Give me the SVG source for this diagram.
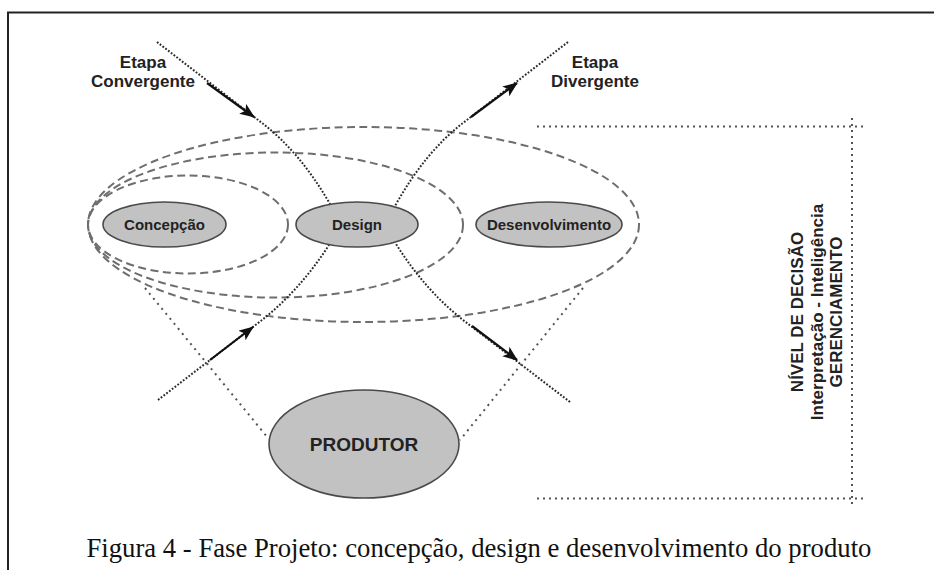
<svg xmlns="http://www.w3.org/2000/svg" width="934" height="570" viewBox="0 0 934 570">
<style>
.frame{fill:none;stroke:#222;stroke-width:2}
.zone{fill:none;stroke:#6e6e6e;stroke-width:2;stroke-dasharray:8 4.5}
.node{fill:#c2c2c2;stroke:#4a4a4a;stroke-width:1.6}
.lbl{font-family:"Liberation Sans",Arial,sans-serif;font-weight:bold;fill:#222;text-anchor:middle}
.path{fill:none;stroke:#2a2a2a;stroke-width:2;stroke-dasharray:1.8 1.7}
.cone{fill:none;stroke:#555;stroke-width:2;stroke-dasharray:2 4.5}
.bracket{fill:none;stroke:#555;stroke-width:2;stroke-dasharray:2 4}
.arrow{fill:none;stroke:#111;stroke-width:2.2;marker-end:url(#ah)}
.cap{font-family:"Liberation Serif","Times New Roman",serif;font-size:26.7px;fill:#111}
</style>
<defs>
<marker id="ah" markerWidth="16" markerHeight="14" refX="14" refY="6" orient="auto" markerUnits="userSpaceOnUse">
<path d="M0,0 L15,6 L0,12 L3.5,6 Z" fill="#111"/>
</marker>
</defs>
<path class="frame" d="M8,570 V12.5 H934"/>
<g id="zones">
<ellipse class="zone" cx="363.5" cy="224.5" rx="275.5" ry="97.5"/>
<ellipse class="zone" cx="275.5" cy="225" rx="187.5" ry="72.5"/>
<ellipse class="zone" cx="188" cy="224.5" rx="100" ry="49"/>
</g>
<g id="connectors">
<path class="path" d="M157,42 L262,123 Q300,152 330,204"/>
<path class="path" d="M158,400 L262,320 Q300,290 329,245"/>
<path class="path" d="M568,42 L463,123 Q425,152 395,206"/>
<path class="path" d="M570,402 L463,320 Q425,290 396,244"/>
<line class="arrow" x1="207" y1="83" x2="254" y2="117"/>
<line class="arrow" x1="471" y1="117" x2="517" y2="83"/>
<line class="arrow" x1="210" y1="360" x2="253" y2="327"/>
<line class="arrow" x1="472" y1="326" x2="517" y2="360"/>
<line class="cone" x1="145" y1="288" x2="268" y2="438"/>
<line class="cone" x1="583" y1="288" x2="460" y2="440"/>
</g>
<g id="concepcao">
<ellipse class="node" cx="164.5" cy="224.5" rx="61.5" ry="22.5"/>
<text class="lbl" x="164.5" y="230" font-size="15">Concepção</text>
</g>
<g id="design">
<ellipse class="node" cx="357" cy="224.5" rx="61" ry="22.5"/>
<text class="lbl" x="357" y="230" font-size="15">Design</text>
</g>
<g id="desenvolvimento">
<ellipse class="node" cx="549" cy="224.5" rx="73" ry="22.5"/>
<text class="lbl" x="549" y="230" font-size="15">Desenvolvimento</text>
</g>
<g id="produtor">
<ellipse class="node" cx="364" cy="444" rx="95" ry="54"/>
<text class="lbl" x="364" y="451" font-size="19">PRODUTOR</text>
</g>
<g id="etapa-convergente">
<text class="lbl" x="143" y="68" font-size="17">Etapa</text>
<text class="lbl" x="143" y="86.5" font-size="17">Convergente</text>
</g>
<g id="etapa-divergente">
<text class="lbl" x="595" y="68" font-size="17">Etapa</text>
<text class="lbl" x="595" y="86.5" font-size="17">Divergente</text>
</g>
<g id="nivel-decisao">
<path class="bracket" d="M537,126.5 H867 M852,118 V506 M537,498.5 H866"/>
<text class="lbl" font-size="17" transform="translate(803,312) rotate(-90)">NÍVEL DE DECISÃO</text>
<text class="lbl" font-size="17" transform="translate(822.5,312) rotate(-90)">Interpretação - Inteligência</text>
<text class="lbl" font-size="17" transform="translate(842,312) rotate(-90)">GERENCIAMENTO</text>
</g>
<text class="cap" x="86.5" y="557">Figura 4 - Fase Projeto: concepção, design e desenvolvimento do produto</text>
</svg>
